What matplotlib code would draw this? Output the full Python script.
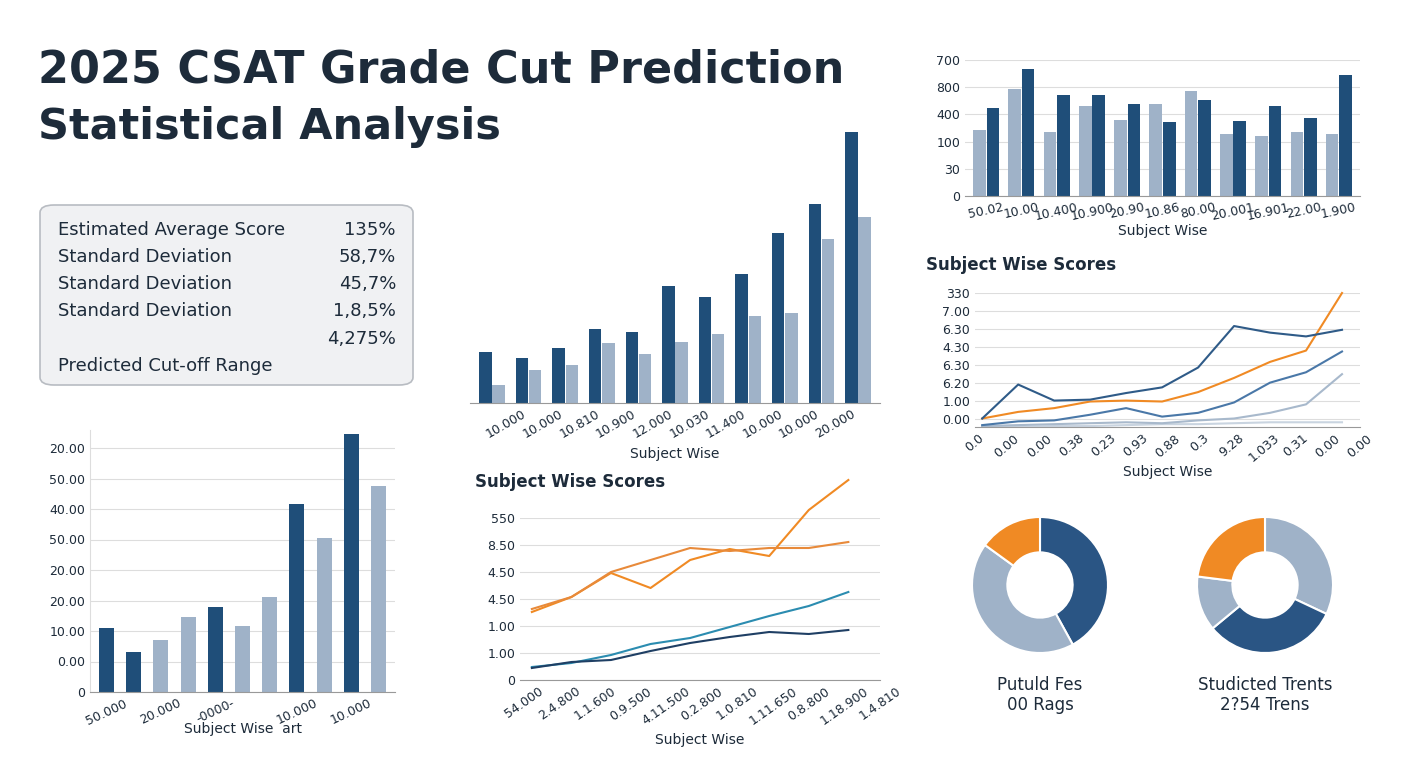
import matplotlib.pyplot as plt
from matplotlib.patches import FancyBboxPatch
import numpy as np

W, H = 1408, 768
NAVY = '#2a5584'
DARK = '#1f4e79'
LIGHT = '#9fb2c8'
ORANGE = '#f08a24'
TEAL = '#2b8cb0'
TXT = '#1d2b3a'

# ---- data ----
stats_labels = ['Estimated Average Score', 'Standard Deviation', 'Standard Deviation', 'Standard Deviation', '', 'Predicted Cut-off Range']
stats_values = ['135%', '58,7%', '45,7%', '1,8,5%', '4,275%', '']

mid_dark = [51, 45, 55, 74, 71, 117, 106, 129, 170, 199, 271]
mid_light = [18, 33, 38, 60, 49, 61, 69, 87, 90, 164, 186]
mid_labels = ['', '10.000', '10.000', '10.810', '10.900', '12.000', '10.030', '11.400', '10.000', '10.000', '20.000']

tr_light = [66, 107, 64, 90, 76, 92, 105, 62, 60, 64, 62]
tr_dark = [88, 127, 101, 101, 92, 74, 96, 75, 90, 78, 121]
tr_labels = ['50.02', '10.00', '10.400', '10.900', '20.90', '10.86', '80.00', '20.001', '16.901', '22.00', '1.900']
tr_yticks = ['0', '30', '100', '400', '800', '700']

rl_navy = [0, 36, 19, 20, 27, 33, 54, 98, 91, 87, 94]
rl_orange = [0, 7, 11, 18, 19, 18, 28, 43, 60, 72, 133]
rl_mid = [-7, -3, -2, 4, 11, 2, 6, 17, 38, 49, 71]
rl_grey = [-8, -7, -6, -5, -4, -5, -2, 0, 6, 15, 47]
rl_pale = [-9, -9, -8, -8, -7, -6, -6, -5, -4, -4, -4]
rl_xlabels = ['0.0', '0.00', '0.00', '0.38', '0.23', '0.93', '0.88', '0.3', '9.28', '1.033', '0.31', '0.00', '0.00']
rl_yticks = ['0.00', '1.00', '6.20', '6.30', '4.30', '6.30', '7.00', '330']

bl_vals = [64, 40, 52, 75, 85, 66, 95, 188, 154, 258, 206]
bl_dark = [1, 1, 0, 0, 1, 0, 0, 1, 0, 1, 0]
bl_labels = ['50.000', '', '20.000', '', '-0000-', '', '', '10.000', '', '10.000', '']
bl_yticks = ['0', '0.00', '10.00', '20.00', '20.00', '50.00', '40.00', '50.00', '20.00']

ml_or1 = [68, 83, 107, 92, 120, 131, 124, 170, 200]
ml_or2 = [71, 83, 108, 120, 132, 129, 132, 132, 138]
ml_teal = [13, 17, 25, 36, 42, 53, 64, 74, 88]
ml_navy = [12, 18, 20, 29, 37, 43, 48, 46, 50]
ml_xlabels = ['54.000', '2.4.800', '1.1.600', '0.9.500', '4.11.500', '0.2.800', '1.0.810', '1.11.650', '0.8.800', '1.18.900', '1.4.810']
ml_yticks = ['0', '1.00', '1.00', '4.50', '4.50', '8.50', '550']

d1_vals = [42, 43, 15]
d1_cols = [NAVY, LIGHT, ORANGE]
d2_vals = [32, 32, 13, 23]
d2_cols = [LIGHT, NAVY, LIGHT, ORANGE]


def ax_px(x0, y0, x1, y1):
    return fig.add_axes([x0 / W, 1 - y1 / H, (x1 - x0) / W, (y1 - y0) / H])


def clean(ax, left=False):
    for s in ['top', 'right']:
        ax.spines[s].set_visible(False)
    ax.spines['left'].set_visible(left)
    ax.spines['left'].set_color('#dddddd')
    ax.spines['bottom'].set_color('#999999')
    ax.tick_params(length=0, labelsize=9, colors=TXT)


fig = plt.figure(figsize=(W / 100, H / 100), dpi=100)
fig.patch.set_facecolor('white')

fig.text(38 / W, 1 - 70 / H, '2025 CSAT Grade Cut Prediction', fontsize=32, weight='bold', color=TXT, va='center')
fig.text(38 / W, 1 - 127 / H, 'Statistical Analysis', fontsize=31, weight='bold', color=TXT, va='center')

# info box
box = FancyBboxPatch((40 / W, 1 - 385 / H), 373 / W, 180 / H, boxstyle='round,pad=0,rounding_size=0.01',
                     transform=fig.transFigure, facecolor='#f0f1f3', edgecolor='#b8bcc2', lw=1.2)
fig.patches.append(box)
ys = [230, 257, 284, 311, 339, 366]
for y, l, v in zip(ys, stats_labels, stats_values):
    fig.text(58 / W, 1 - y / H, l, fontsize=13, color=TXT, va='center')
    fig.text(396 / W, 1 - y / H, v, fontsize=13, color=TXT, va='center', ha='right')

# middle top bars
ax = ax_px(470, 120, 880, 403)
x = np.arange(len(mid_dark))
ax.bar(x - 0.18, mid_dark, 0.34, color=DARK)
ax.bar(x + 0.18, mid_light, 0.34, color=LIGHT)
ax.set_ylim(0, 283)
ax.set_xlim(-0.6, len(x) - 0.4)
ax.set_yticks([])
ax.set_xticks(x)
ax.set_xticklabels(mid_labels, rotation=30, ha='right', fontsize=9)
ax.set_xlabel('Subject Wise', fontsize=10, color=TXT)
clean(ax)

# top right bars
ax = ax_px(965, 60, 1360, 196)
x = np.arange(len(tr_dark))
ax.bar(x - 0.19, tr_light, 0.36, color=LIGHT)
ax.bar(x + 0.19, tr_dark, 0.36, color=DARK)
ax.set_ylim(0, 136)
ax.set_yticks(np.linspace(0, 136, 6))
ax.set_yticklabels(tr_yticks)
ax.grid(axis='y', color='#dddddd', lw=0.8)
ax.set_axisbelow(True)
ax.set_xlim(-0.6, len(x) - 0.4)
ax.set_xticks(x)
ax.set_xticklabels(tr_labels, rotation=12, fontsize=9)
ax.set_xlabel('Subject Wise', fontsize=10, color=TXT, labelpad=1)
clean(ax)

# right line chart
fig.text(926 / W, 1 - 265 / H, 'Subject Wise Scores', fontsize=12, weight='bold', color=TXT, va='center')
ax = ax_px(975, 293, 1360, 427)
x = np.arange(len(rl_navy))
ax.plot(x, rl_pale, color='#c9d4e0', lw=1.5)
ax.plot(x, rl_grey, color='#a8b9cc', lw=1.5)
ax.plot(x, rl_mid, color='#4a78a8', lw=1.5)
ax.plot(x, rl_orange, color=ORANGE, lw=1.5, clip_on=False)
ax.plot(x, rl_navy, color='#2f5b88', lw=1.5)
ax.set_ylim(-9, 133)
ax.set_yticks(np.linspace(0, 133, 8))
ax.set_yticklabels(rl_yticks)
ax.grid(axis='y', color='#dddddd', lw=0.8)
ax.set_xlim(-0.2, 10.5)
ax.set_xticks(np.linspace(-0.2, 10.5, len(rl_xlabels)))
ax.set_xticklabels(rl_xlabels, rotation=40, fontsize=7)
ax.set_xlabel('Subject Wise', fontsize=10, color=TXT, labelpad=0)
clean(ax)

# bottom left bars
ax = ax_px(90, 430, 395, 692)
x = np.arange(len(bl_vals))
ax.bar(x, bl_vals, 0.55, color=[DARK if d else LIGHT for d in bl_dark])
ax.set_ylim(0, 262)
ax.set_yticks(np.linspace(0, 244, 9))
ax.set_yticklabels(bl_yticks, fontsize=10)
ax.grid(axis='y', color='#dddddd', lw=0.8)
ax.set_axisbelow(True)
ax.set_xlim(-0.6, len(x) - 0.4)
ax.set_xticks(x)
ax.set_xticklabels(bl_labels, rotation=25, fontsize=10)
ax.set_xlabel('Subject Wise  art', fontsize=10, color=TXT, labelpad=-4)
clean(ax, left=True)

# middle bottom lines
fig.text(475 / W, 1 - 482 / H, 'Subject Wise Scores', fontsize=12, weight='bold', color=TXT, va='center')
ax = ax_px(520, 518, 880, 680)
x = np.arange(len(ml_or1))
ax.plot(x, ml_or1, color=ORANGE, lw=1.5, clip_on=False)
ax.plot(x, ml_or2, color='#e88a3a', lw=1.5)
ax.plot(x, ml_teal, color=TEAL, lw=1.5)
ax.plot(x, ml_navy, color='#1f3f64', lw=1.5)
ax.set_ylim(0, 162)
ax.set_yticks(np.linspace(0, 162, 7))
ax.set_yticklabels(ml_yticks)
ax.grid(axis='y', color='#dddddd', lw=0.8)
ax.set_xlim(-0.3, 8.8)
ax.set_xticks(np.linspace(-0.2, 8.8, len(ml_xlabels)))
ax.set_xticklabels(ml_xlabels, rotation=35, fontsize=8)
ax.set_xlabel('Subject Wise', fontsize=10, color=TXT)
clean(ax)

# donuts
for cx, vals, cols, lbl in [(1040, d1_vals, d1_cols, 'Putuld Fes\n00 Rags'),
                             (1265, d2_vals, d2_cols, 'Studicted Trents\n2?54 Trens')]:
    ax = ax_px(cx - 85, 500, cx + 85, 670)
    ax.pie(vals, colors=cols, startangle=90, counterclock=False,
           wedgeprops=dict(width=0.52, edgecolor='white', lw=1.5))
    ax.set_aspect('equal')
    fig.text(cx / W, 1 - 695 / H, lbl, fontsize=12, color=TXT, ha='center', va='center', linespacing=1.1)

fig.savefig('out.png', dpi=100)
